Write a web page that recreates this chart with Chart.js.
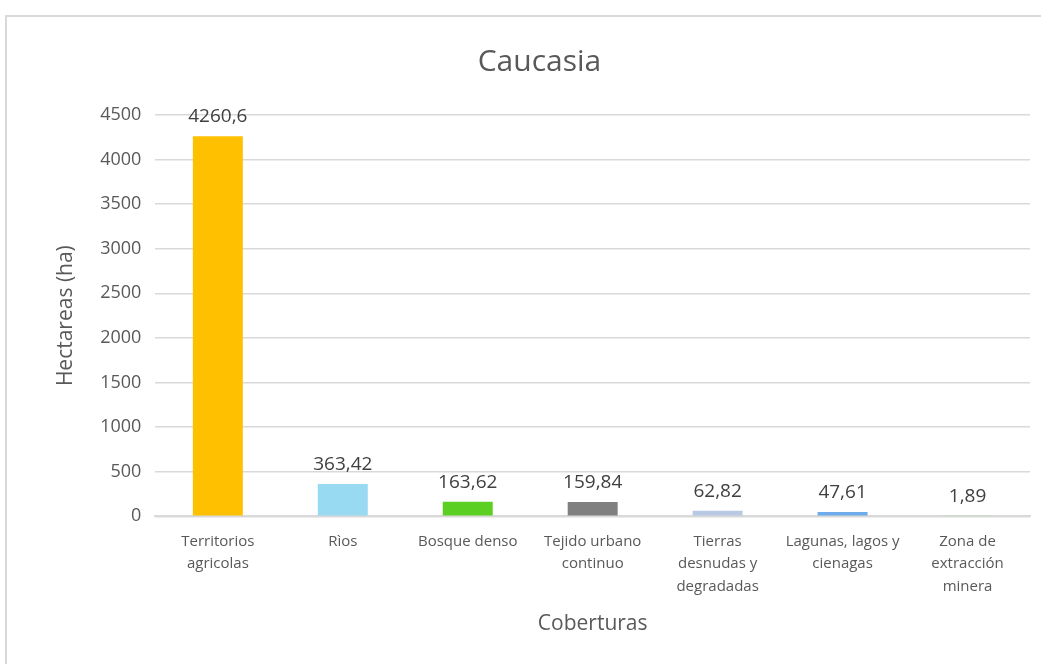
<!DOCTYPE html>
<html>
<head>
<meta charset="utf-8">
<script src="https://cdn.jsdelivr.net/npm/chart.js@4"></script>
<style>
    html, body { margin: 0; padding: 0; background: #fff; overflow: hidden; }
    .frame { position: absolute; left: 5px; top: 15px; width: 1100px; height: 700px; border: 2px solid #d9d9d9; }
    .wrap { position: absolute; left: 0; top: 0; width: 1041px; height: 664px; }
</style>
</head>
<body>
<div class="frame"></div>
<div class="wrap"><canvas id="chart" width="1041" height="664"></canvas></div>
<script>
// Data
const categories = [
    ['Territorios', 'agricolas'],
    'Rìos',
    'Bosque denso',
    ['Tejido urbano', 'continuo'],
    ['Tierras', 'desnudas y', 'degradadas'],
    ['Lagunas, lagos y', 'cienagas'],
    ['Zona de', 'extracción', 'minera']
];
const hectareas = [4260.6, 363.42, 163.62, 159.84, 62.82, 47.61, 1.89];
const valueLabels = ['4260,6', '363,42', '163,62', '159,84', '62,82', '47,61', '1,89'];
const barColors = ['#FFC000', '#97DAF2', '#5BCF22', '#808080', '#B9C9E4', '#6EABEC', '#C5E0B4'];

const fontFamily = "'Open Sans', 'Noto Sans', sans-serif";

// Simple value labels above each bar
const valueLabelPlugin = {
    id: 'valueLabels',
    afterDatasetsDraw(chart) {
        const ctx = chart.ctx;
        const meta = chart.getDatasetMeta(0);
        ctx.save();
        ctx.font = '19px ' + fontFamily;
        ctx.fillStyle = '#404040';
        ctx.textAlign = 'center';
        ctx.textBaseline = 'bottom';
        meta.data.forEach((bar, i) => {
            ctx.fillText(valueLabels[i], bar.x, bar.y - 10);
        });
        ctx.restore();
    }
};

new Chart(document.getElementById('chart').getContext('2d'), {
    type: 'bar',
    data: {
        labels: categories,
        datasets: [{
            data: hectareas,
            backgroundColor: barColors,
            categoryPercentage: 1,
            barPercentage: 0.4
        }]
    },
    options: {
        responsive: false,
        animation: false,
        layout: { padding: { top: 24, right: 11, left: 49, bottom: 23 } },
        plugins: {
            legend: { display: false },
            tooltip: { enabled: false },
            title: {
                display: true,
                text: 'Caucasia',
                color: '#595959',
                font: { family: fontFamily, size: 30, weight: 'normal' },
                padding: { top: 20, bottom: 35 }
            }
        },
        scales: {
            x: {
                grid: { display: false },
                border: { color: '#d9d9d9', width: 2 },
                ticks: {
                    color: '#595959',
                    font: { family: fontFamily, size: 15, lineHeight: 1.5 },
                    maxRotation: 0,
                    autoSkip: false,
                    padding: 6
                },
                title: {
                    display: true,
                    text: 'Coberturas',
                    color: '#595959',
                    font: { family: fontFamily, size: 21 },
                    padding: { top: 8 }
                }
            },
            y: {
                min: 0,
                max: 4500,
                grid: { color: '#d9d9d9', lineWidth: 1.5, drawTicks: false },
                border: { display: false },
                ticks: {
                    stepSize: 500,
                    color: '#595959',
                    font: { family: fontFamily, size: 18 },
                    padding: 14,
                    callback: (v) => String(v)
                },
                title: {
                    display: true,
                    text: 'Hectareas (ha)',
                    color: '#595959',
                    font: { family: fontFamily, size: 21 },
                    padding: { bottom: 8 }
                }
            }
        }
    },
    plugins: [valueLabelPlugin]
});
</script>
</body>
</html>
